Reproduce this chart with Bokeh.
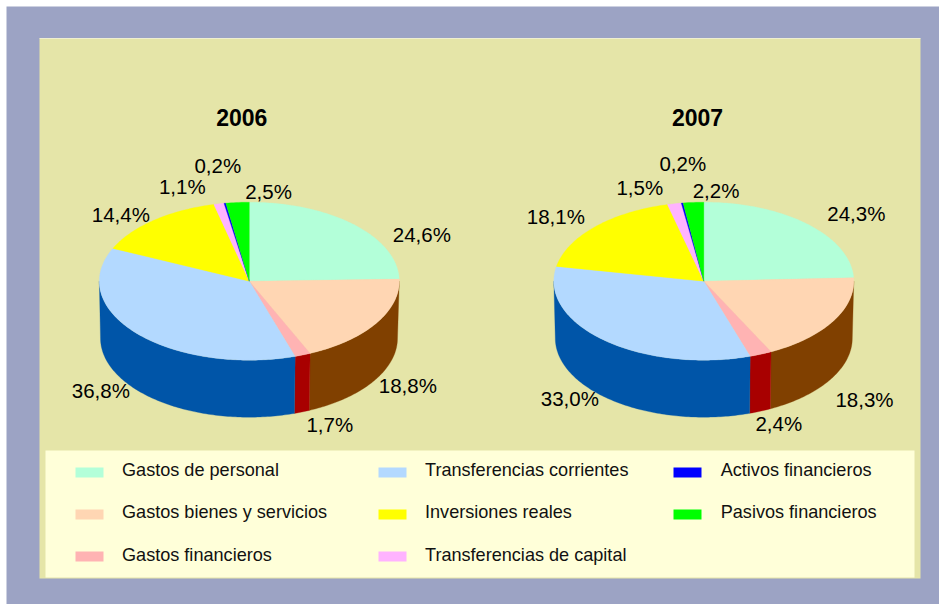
import math
from bokeh.plotting import figure
from bokeh.models import Range1d
from bokeh.core.properties import value
from bokeh.embed import file_html
from bokeh.resources import INLINE

categories = ["Gastos de personal", "Gastos bienes y servicios", "Gastos financieros",
              "Transferencias corrientes", "Inversiones reales", "Transferencias de capital",
              "Activos financieros", "Pasivos financieros"]
values_2006 = [24.6, 18.8, 1.7, 36.8, 14.4, 1.1, 0.2, 2.5]
values_2007 = [24.3, 18.3, 2.4, 33.0, 18.1, 1.5, 0.2, 2.2]
top_colors = ["#B3FFD9", "#FFD6B3", "#FFB3B3", "#B3D9FF", "#FFFF00", "#FFB3FF", "#0000FF", "#00FF00"]
side_colors = ["#5A8070", "#804000", "#A80000", "#0055A8", "#808000", "#805A80", "#000080", "#008000"]

# layout (picture pixels)
label_pos_2006 = [(421.3, 234.2), (407.3, 385.2), (329.3, 423.7), (100.3, 390.2), (120.3, 214.2), (181.8, 185.8), (217.3, 165.2), (268, 191.2)]
label_pos_2007 = [(855.8, 213.2), (864, 399.2), (778.3, 422.7), (569.3, 398.2), (555.3, 216.2), (639.3, 187.2), (682.3, 163.2), (715.5, 190.2)]
legend_cols = [(75, 121.5), (378, 424.5), (673, 720.2)]
legend_rows = [(467, 469.8), (509, 511.8), (551, 554.5)]
legend_layout = [(0, 0), (0, 1), (0, 2), (1, 0), (1, 1), (1, 2), (2, 0), (2, 1)]

FONT = value("Liberation Sans")

p = figure(width=939, height=604, x_range=Range1d(0, 939), y_range=Range1d(604, 0),
           output_backend="svg", toolbar_location=None, min_border=0,
           background_fill_color="white", border_fill_color="white", outline_line_color=None)
p.axis.visible = False
p.grid.visible = False


def box(x0, y0, x1, y1, color):
    p.quad(left=[x0], right=[x1], top=[y0], bottom=[y1], fill_color=color, line_color=None)


box(6, 6, 939, 604, "#9CA3C4")
box(39, 38, 920, 578, "#E5E5A8")
box(39, 37.6, 920, 38.6, "#EFEFD0")
box(45, 450, 914, 577, "#FFFFD9")


def pie(vals, cx, cy, rx, ry, depth, cxb, rxb, labels):
    total = sum(vals)
    cum = 0.0
    spans = []
    for v in vals:
        spans.append((cum / total * 2 * math.pi, (cum + v) / total * 2 * math.pi))
        cum += v
    # walls: visible front half, theta measured clockwise from the top
    for (a, b), c in zip(spans, side_colors):
        lo, hi = max(a, math.pi / 2), min(b, 3 * math.pi / 2)
        if hi <= lo:
            continue
        n = max(2, int((hi - lo) * 60))
        th = [lo + (hi - lo) * i / n for i in range(n + 1)]
        xs = [cx + rx * math.sin(t) for t in th] + [cxb + rxb * math.sin(t) for t in reversed(th)]
        ys = [cy - ry * math.cos(t) for t in th] + [cy + depth - ry * math.cos(t) for t in reversed(th)]
        p.patch(xs, ys, fill_color=c, line_color=c, line_width=0.3)
    # top faces
    for (a, b), c in zip(spans, top_colors):
        n = max(2, int((b - a) * 60))
        th = [a + (b - a) * i / n for i in range(n + 1)]
        xs = [cx] + [cx + rx * math.sin(t) for t in th]
        ys = [cy] + [cy - ry * math.cos(t) for t in th]
        p.patch(xs, ys, fill_color=c, line_color=c, line_width=0.3)
    for v, (x, y) in zip(vals, labels):
        p.text([x], [y], text=[f"{v:.1f}%".replace(".", ",")], text_font=FONT,
               text_font_size="20.5px", text_color="#000000", text_align="center",
               text_baseline="alphabetic")


pie(values_2006, 248.8, 280.7, 150, 79, 57, 248.5, 148.5, label_pos_2006)
pie(values_2007, 703.3, 280.7, 150, 79, 57, 703.3, 148.5, label_pos_2007)

p.text([241.3], [117], text=["2006"], text_font=FONT, text_font_size="23px", text_font_style="bold",
       text_color="#000000", text_align="center", text_baseline="alphabetic")
p.text([697], [117], text=["2007"], text_font=FONT, text_font_size="23px", text_font_style="bold",
       text_color="#000000", text_align="center", text_baseline="alphabetic")

for name, color, (ci, ri) in zip(categories, top_colors, legend_layout):
    sx, tx = legend_cols[ci]
    sy, ty = legend_rows[ri]
    box(sx, sy, sx + 28, sy + 10, color)
    p.text([tx], [ty], text=[name], text_font=FONT, text_font_size="18.1px", text_color="#111111",
           text_align="left", text_baseline="alphabetic")

open("out.html", "w").write(file_html(p, INLINE))
